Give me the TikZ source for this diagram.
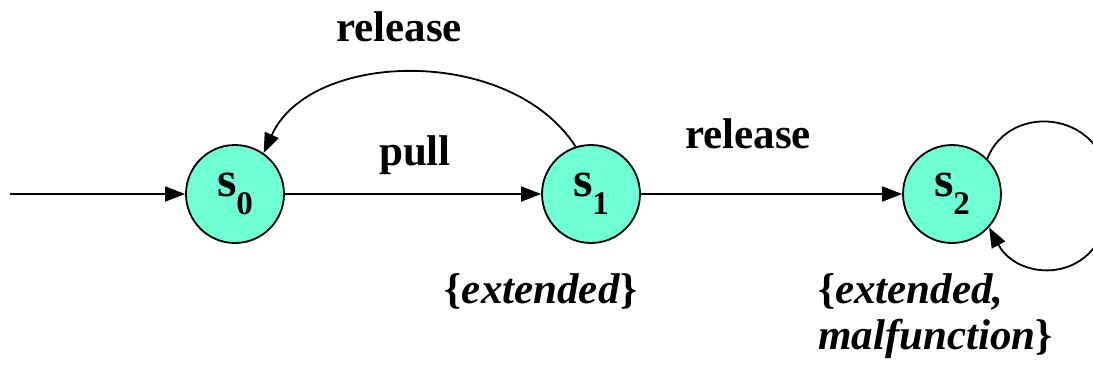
\documentclass[tikz,border=0pt]{standalone}
\usepackage{fontspec}
\newfontfamily\tnr{Liberation Serif}
\usetikzlibrary{arrows.meta}
\definecolor{statefill}{RGB}{110,255,212}
\tikzset{
  state/.style={circle, draw=black, line width=1.8pt, fill=statefill, minimum size=98pt, inner sep=0pt,
    font=\tnr\fontsize{50}{50}\selectfont\bfseries},
  edge/.style={line width=1.8pt, -{Triangle[length=20pt,width=15pt]}},
  lbl/.style={font=\tnr\fontsize{43}{48}\selectfont\bfseries, inner sep=0pt},
  prop/.style={font=\tnr\fontsize{43}{46}\selectfont\bfseries, inner sep=0pt, align=left}
}
\newcommand{\stname}[1]{s\raisebox{-0.36em}{\fontsize{33}{33}\selectfont #1}}
\begin{document}
\begin{tikzpicture}[x=1pt,y=-1pt]
\useasboundingbox (0,0) rectangle (1093,365);
\clip (0,0) rectangle (1093,365);

% states
\node[state] (s0) at (235,194) {\stname{0}};
\node[state] (s1) at (591,194) {\stname{1}};
\node[state] (s2) at (952,194) {\stname{2}};

% initial arrow
\coordinate (init) at (10,194);
\draw[edge] (init) -- (s0);

% transitions
\draw[edge] (s0) -- (s1);
\draw[edge] (s1) -- (s2);
\draw[edge] (s1.108) .. controls (510,45) and (310,50) .. (s0.55);
\coordinate (loopr) at (1110,193);
\draw[edge] (s2.45) .. controls (1010,100) and (1110,110) .. (loopr)
  .. controls (1110,285) and (1020,285) .. (s2.-42);

% transition labels
\node[lbl] (lrel1) at (399,27) {release};
\node[lbl] (lpull) at (415,155) {pull};
\node[lbl] (lrel2) at (748,134) {release};

% atomic propositions
\node[prop] (p1) at (541,291) {\{\textit{extended}\}};
\node[prop, anchor=north west] (p2) at (818,273) {\{\textit{extended,}\\\textit{malfunction}\}};
\end{tikzpicture}
\end{document}
